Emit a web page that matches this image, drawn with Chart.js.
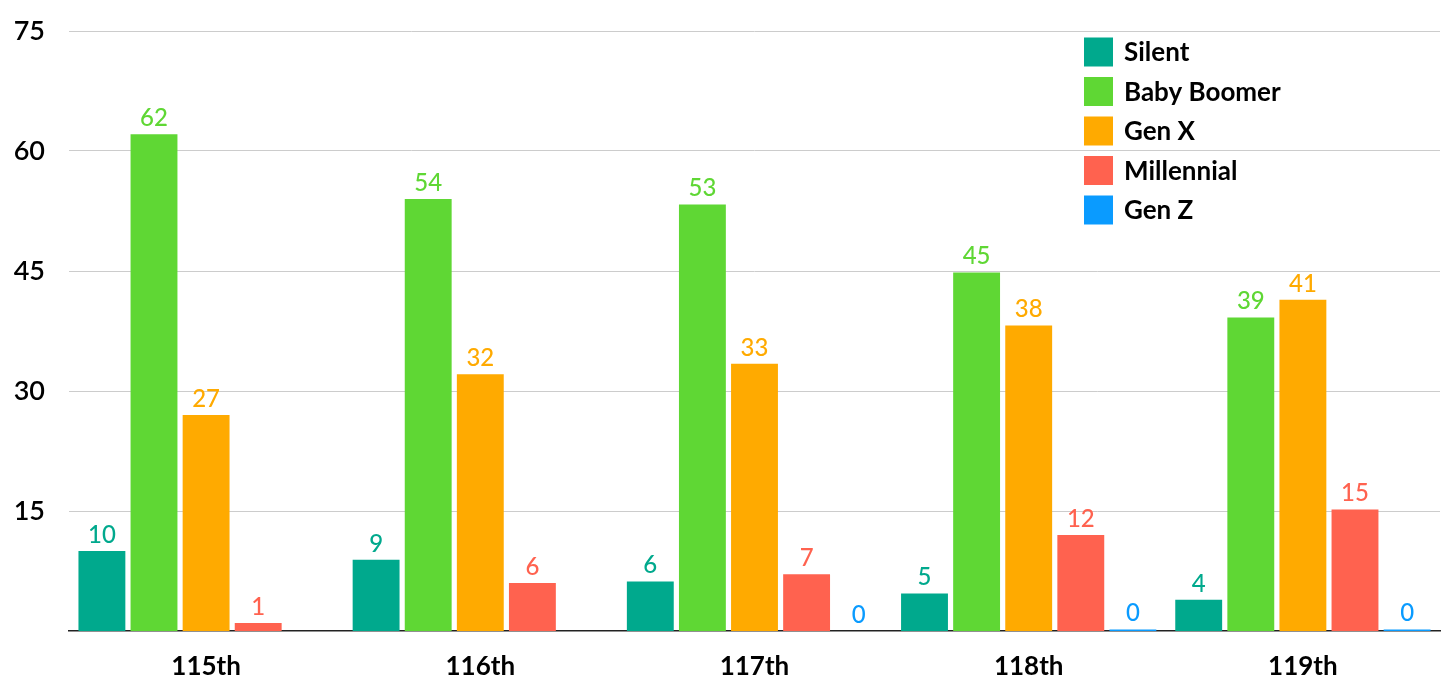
<!DOCTYPE html>
<html lang="en">
<head>
<meta charset="UTF-8">
<title>Generations in Congress</title>
<script src="https://cdn.jsdelivr.net/npm/chart.js"></script>
<style>
  html, body { margin: 0; padding: 0; background: #fff; }
  #wrap { width: 1456px; height: 688px; }
</style>
</head>
<body>
<div id="wrap"><canvas id="genChart"></canvas></div>
<script>
// categories and series
const congresses = ['115th', '116th', '117th', '118th', '119th'];
const silent     = [10.0, 8.9, 6.2, 4.7, 3.9];
const boomer     = [62.1, 54.0, 53.3, 44.8, 39.2];
const genX       = [27.0, 32.1, 33.4, 38.2, 41.4];
const millennial = [1.0, 6.0, 7.1, 12.0, 15.2];
const genZ       = [null, null, 0, 0.2, 0.2];
const yTicks     = [15, 30, 45, 60, 75];

const FONT = 'Lato, "Noto Sans", sans-serif';

// value labels above each bar
const barLabels = {
    id: 'barLabels',
    afterDatasetsDraw(chart) {
        const ctx = chart.ctx;
        ctx.save();
        ctx.font = '500 24px ' + FONT;
        ctx.textAlign = 'center';
        ctx.textBaseline = 'bottom';
        chart.data.datasets.forEach((ds, i) => {
            const meta = chart.getDatasetMeta(i);
            meta.data.forEach((bar, j) => {
                const v = ds.data[j];
                if (v === null) return;
                ctx.fillStyle = ds.backgroundColor;
                ctx.fillText(Math.round(v), bar.x, bar.y - 4);
            });
        });
        ctx.restore();
    }
};

// legend drawn inside the plot, top right
const insideLegend = {
    id: 'insideLegend',
    afterDraw(chart) {
        const ctx = chart.ctx;
        ctx.save();
        ctx.font = 'bold 26px ' + FONT;
        ctx.textBaseline = 'middle';
        ctx.textAlign = 'left';
        chart.data.datasets.forEach((ds, i) => {
            const y = 52 + i * 39.5;
            ctx.fillStyle = ds.backgroundColor;
            ctx.fillRect(1084, y - 14.5, 29, 29);
            ctx.fillStyle = '#000';
            ctx.fillText(ds.label, 1124, y + 1);
        });
        ctx.restore();
    }
};

new Chart(document.getElementById('genChart'), {
    type: 'bar',
    data: {
        labels: congresses,
        datasets: [
            { label: 'Silent', data: silent, backgroundColor: '#00A98D' },
            { label: 'Baby Boomer', data: boomer, backgroundColor: '#5FD734' },
            { label: 'Gen X', data: genX, backgroundColor: '#FFAA00' },
            { label: 'Millennial', data: millennial, backgroundColor: '#FF624F' },
            { label: 'Gen Z', data: genZ, backgroundColor: '#0A9BFF' }
        ]
    },
    options: {
        responsive: true,
        maintainAspectRatio: false,
        animation: false,
        categoryPercentage: 0.95,
        barPercentage: 0.9,
        layout: { padding: { top: 31, right: 16, left: 0, bottom: 0 } },
        plugins: {
            legend: { display: false },
            tooltip: { enabled: false }
        },
        scales: {
            x: {
                grid: { display: false },
                border: { display: true, color: '#222', width: 1.5 },
                ticks: {
                    color: '#000',
                    font: { family: FONT, size: 26, weight: 'bold' },
                    padding: 12
                },
                afterFit(axis) { axis.height = 57; }
            },
            y: {
                min: 0,
                max: 75,
                afterBuildTicks(axis) {
                    axis.ticks = yTicks.map(v => ({ value: v }));
                },
                grid: { color: '#cccccc', lineWidth: 1, drawTicks: false },
                border: { display: false },
                ticks: {
                    color: '#000',
                    font: { family: FONT, size: 27, weight: '600', lineHeight: 0.5 },
                    padding: 24
                },
                afterFit(axis) { axis.width = 69; }
            }
        }
    },
    plugins: [barLabels, insideLegend]
});
</script>
</body>
</html>
